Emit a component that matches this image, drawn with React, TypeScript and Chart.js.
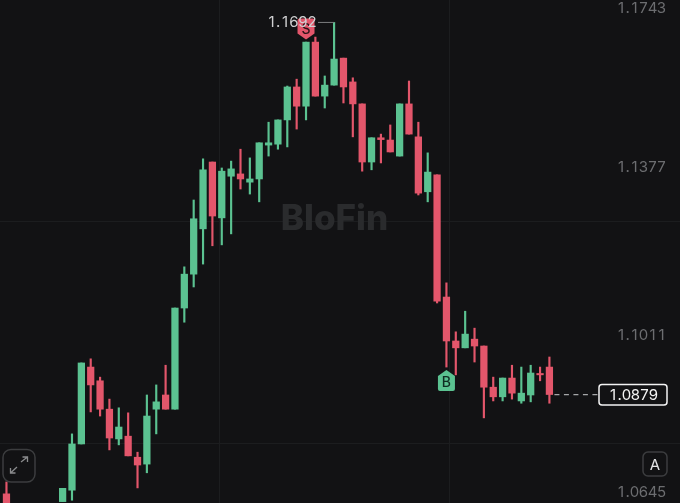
import React, { useEffect, useRef } from "react";
import { Chart, registerables } from "chart.js";

Chart.register(...registerables);

const opens = [1.0662, null, null, null, null, null, 1.0645, 1.0670, 1.0771, 1.0939, 1.0909, 1.0847, 1.0782, 1.0788, 1.0742, 1.0727, 1.0847, 1.0878, 1.0847, 1.1068, 1.1142, 1.1241, 1.1387, 1.1265, 1.1356, 1.1361, 1.1343, 1.1350, 1.1424, 1.1426, 1.1479, 1.1551, 1.1509, 1.1649, 1.1531, 1.1555, 1.1614, 1.1562, 1.1514, 1.1387, 1.1440, 1.1435, 1.1400, 1.1514, 1.1442, 1.1322, 1.1359, 1.1092, 1.0996, 1.0981, 1.1000, 1.0985, 1.0895, 1.0874, 1.0915, 1.0865, 1.0878, 1.0925, 1.0939];
const highs = [1.0688, null, null, null, null, null, 1.0674, 1.0793, 1.0948, 1.0957, 1.0917, 1.0869, 1.0850, 1.0839, 1.0753, 1.0878, 1.0900, 1.0943, 1.1068, 1.1158, 1.1304, 1.1394, 1.1387, 1.1374, 1.1389, 1.1415, 1.1396, 1.1429, 1.1474, 1.1479, 1.1553, 1.1568, 1.1649, 1.1660, 1.1575, 1.1692, 1.1614, 1.1571, 1.1514, 1.1440, 1.1448, 1.1468, 1.1514, 1.1564, 1.1474, 1.1407, 1.1359, 1.1123, 1.1016, 1.1061, 1.1024, 1.0985, 1.0917, 1.0915, 1.0943, 1.0939, 1.0943, 1.0939, 1.0961];
const lows = [1.0616, null, null, null, null, null, 1.0645, 1.0648, 1.0771, 1.0841, 1.0832, 1.0758, 1.0769, 1.0745, 1.0675, 1.0708, 1.0793, 1.0847, 1.0847, 1.1037, 1.1114, 1.1164, 1.1204, 1.1206, 1.1230, 1.1328, 1.1317, 1.1300, 1.1400, 1.1415, 1.1420, 1.1459, 1.1479, 1.1531, 1.1505, 1.1555, 1.1516, 1.1442, 1.1367, 1.1370, 1.1385, 1.1409, 1.1400, 1.1448, 1.1315, 1.1300, 1.1079, 1.0939, 1.0922, 1.0981, 1.0950, 1.0828, 1.0865, 1.0865, 1.0869, 1.0860, 1.0863, 1.0909, 1.0860];
const closes = [1.0627, null, null, null, null, null, 1.0674, 1.0771, 1.0948, 1.0900, 1.0847, 1.0784, 1.0808, 1.0745, 1.0725, 1.0832, 1.0863, 1.0847, 1.1068, 1.1142, 1.1263, 1.1370, 1.1269, 1.1367, 1.1372, 1.1350, 1.1350, 1.1429, 1.1429, 1.1479, 1.1551, 1.1509, 1.1649, 1.1531, 1.1555, 1.1612, 1.1551, 1.1514, 1.1387, 1.1440, 1.1436, 1.1409, 1.1514, 1.1448, 1.1319, 1.1365, 1.1083, 1.0996, 1.0981, 1.1011, 1.0985, 1.0895, 1.0874, 1.0915, 1.0882, 1.0882, 1.0926, 1.0922, 1.0879];

const priceTicks = [1.1743, 1.1377, 1.1011, 1.0645];
const lastPrice = 1.0879;
const highLabel = 1.1692;
const highIndex = 35;
const sellIndex = 32;
const buyIndex = 47;
const gridPrices = [1.0773, 1.1258];
const gridIndexes = [22.79, 47.36];
const watermark = "BloFin";

const GREEN = "#5bc291";
const RED = "#e3566b";
const BG = "#121214";
const GRID = "#1c1d1f";

const roundRect = (c: CanvasRenderingContext2D, x: number, y: number, w: number, h: number, r: number) => {
  c.beginPath();
  c.roundRect(x, y, w, h, r);
};

// Inter's digits set in equal cells, as the reference's tabular figures are
const tabular = (c: CanvasRenderingContext2D, text: string, right: number, y: number) => {
  c.textAlign = "center";
  c.textBaseline = "middle";
  let x = right;
  for (let i = text.length - 1; i >= 0; i--) {
    const w = text[i] === "." ? 4.5 : 9;
    c.fillText(text[i], x - w / 2, y);
    x -= w;
  }
};

const overlay = {
  id: "overlay",
  beforeDraw(chart: any) {
    const c = chart.ctx;
    c.save();
    c.fillStyle = BG;
    c.fillRect(0, 0, chart.width, chart.height);
    c.restore();
  },
  beforeDatasetsDraw(chart: any) {
    const c = chart.ctx;
    c.save();
    c.fillStyle = "#2a2b2d";
    c.font = "800 35px Inter";
    c.textAlign = "center";
    c.textBaseline = "middle";
    c.fillText(watermark, 334.5, 219.5);
    c.restore();
  },
  afterDatasetsDraw(chart: any) {
    const c = chart.ctx;
    const y = chart.scales.y;
    const x = chart.scales.x;
    c.save();

    // axis price labels, kept inside the canvas
    c.font = "400 15px Inter";
    c.fillStyle = "#6c6d70";
    priceTicks.forEach((p) => {
      const py = Math.min(491, Math.max(7, y.getPixelForValue(p))) + 1.2;
      tabular(c, p.toFixed(4), 666, py);
    });

    // last price line and box
    const ly = y.getPixelForValue(lastPrice);
    c.strokeStyle = "#a5a6a8";
    c.lineWidth = 1.2;
    c.setLineDash([5, 4.5]);
    c.beginPath();
    c.moveTo(x.getPixelForValue(closes.length - 1) + 5, ly);
    c.lineTo(598, ly);
    c.stroke();
    c.setLineDash([]);
    roundRect(c, 599, ly - 10, 68, 20.5, 3);
    c.fillStyle = BG;
    c.fill();
    c.strokeStyle = "#f4f4f4";
    c.lineWidth = 1.5;
    c.stroke();
    c.fillStyle = "#f4f4f4";
    tabular(c, lastPrice.toFixed(4), 658, ly + 1);

    // S marker
    const sx = x.getPixelForValue(sellIndex);
    const sTip = y.getPixelForValue(highs[sellIndex] as number) - 2.5;
    c.fillStyle = RED;
    c.beginPath();
    c.moveTo(sx, sTip);
    c.lineTo(sx + 8.5, sTip - 6);
    c.lineTo(sx + 8.5, sTip - 19);
    c.quadraticCurveTo(sx + 8.5, sTip - 21, sx + 6.5, sTip - 21);
    c.lineTo(sx - 6.5, sTip - 21);
    c.quadraticCurveTo(sx - 8.5, sTip - 21, sx - 8.5, sTip - 19);
    c.lineTo(sx - 8.5, sTip - 6);
    c.closePath();
    c.fill();
    c.fillStyle = "#2c1418";
    c.font = "500 14px Inter";
    c.textAlign = "center";
    c.textBaseline = "middle";
    c.fillText("S", sx, sTip - 10);

    // B marker
    const bx = x.getPixelForValue(buyIndex);
    const bTip = y.getPixelForValue(lows[buyIndex] as number) + 3;
    c.fillStyle = GREEN;
    c.beginPath();
    c.moveTo(bx, bTip);
    c.lineTo(bx + 8.5, bTip + 6);
    c.lineTo(bx + 8.5, bTip + 19);
    c.quadraticCurveTo(bx + 8.5, bTip + 21, bx + 6.5, bTip + 21);
    c.lineTo(bx - 6.5, bTip + 21);
    c.quadraticCurveTo(bx - 8.5, bTip + 21, bx - 8.5, bTip + 19);
    c.lineTo(bx - 8.5, bTip + 6);
    c.closePath();
    c.fill();
    c.fillStyle = "#0f2c22";
    c.font = "500 14px Inter";
    c.fillText("B", bx, bTip + 13);

    // high label with leader
    const hx = x.getPixelForValue(highIndex);
    const hy = y.getPixelForValue(highLabel);
    c.strokeStyle = "#7d7e80";
    c.lineWidth = 1;
    c.beginPath();
    c.moveTo(318, hy);
    c.lineTo(hx, hy);
    c.stroke();
    c.fillStyle = "#d0d0d2";
    c.font = "400 15px Inter";
    tabular(c, highLabel.toFixed(4), 316.5, hy + 0.5);

    // expand button
    roundRect(c, 3, 449.5, 32, 32.5, 8);
    c.strokeStyle = "#3c3d3f";
    c.lineWidth = 1.5;
    c.stroke();
    c.strokeStyle = "#8a8b8d";
    c.lineWidth = 1.3;
    c.beginPath();
    c.moveTo(21, 462);
    c.lineTo(27.5, 457);
    c.moveTo(22.5, 457);
    c.lineTo(27.5, 457);
    c.lineTo(27.5, 462);
    c.moveTo(17, 467);
    c.lineTo(10.5, 473);
    c.moveTo(10.5, 468);
    c.lineTo(10.5, 473);
    c.lineTo(15.5, 473);
    c.stroke();

    // auto button
    roundRect(c, 643, 452, 24, 24, 5);
    c.strokeStyle = "#3c3d3f";
    c.lineWidth = 1.5;
    c.stroke();
    c.fillStyle = "#e4e4e6";
    c.font = "400 15px Inter";
    c.textAlign = "center";
    c.textBaseline = "middle";
    c.fillText("A", 655, 465);
    c.restore();
  },
};

export default function App() {
  const ref = useRef<HTMLCanvasElement>(null);
  useEffect(() => {
    const points = opens.map((_, i) => i);
    const color = (ctx: any) => {
      const i = ctx.dataIndex;
      return (closes[i] as number) >= (opens[i] as number) && i !== 25 ? GREEN : RED;
    };
    const chart = new Chart(ref.current as HTMLCanvasElement, {
      type: "bar",
      data: {
        datasets: [
          {
            label: "wick",
            data: points.map((i) => ({ x: i, y: lows[i] === null ? null : [lows[i], highs[i]] })) as any,
            backgroundColor: color,
            barThickness: 1.5,
            grouped: false,
            order: 2,
          },
          {
            label: "body",
            data: points.map((i) => ({ x: i, y: opens[i] === null ? null : [opens[i], closes[i]] })) as any,
            backgroundColor: color,
            barThickness: 6.6,
            grouped: false,
            order: 1,
          },
        ],
      },
      options: {
        animation: false,
        responsive: false,
        layout: { padding: 0 },
        plugins: { legend: { display: false }, tooltip: { enabled: false } },
        scales: {
          x: {
            type: "linear",
            offset: false,
            min: -0.69,
            max: 71.95,
            display: true,
            border: { display: false },
            grid: { color: GRID, drawTicks: false, lineWidth: 1, offset: false },
            ticks: { display: false },
            afterBuildTicks: (s: any) => {
              s.ticks = gridIndexes.map((value) => ({ value }));
            },
          },
          y: {
            type: "linear",
            min: 1.0642,
            max: 1.1741,
            display: true,
            border: { display: false },
            grid: { color: GRID, drawTicks: false, lineWidth: 1 },
            ticks: { display: false },
            afterBuildTicks: (s: any) => {
              s.ticks = gridPrices.map((value) => ({ value }));
            },
          },
        },
      },
      plugins: [overlay],
    } as any);
    return () => chart.destroy();
  }, []);
  return (
    <canvas
      ref={ref}
      width={680}
      height={503}
      style={{ position: "fixed", left: 0, top: 0, width: 680, height: 503, display: "block" }}
    />
  );
}
